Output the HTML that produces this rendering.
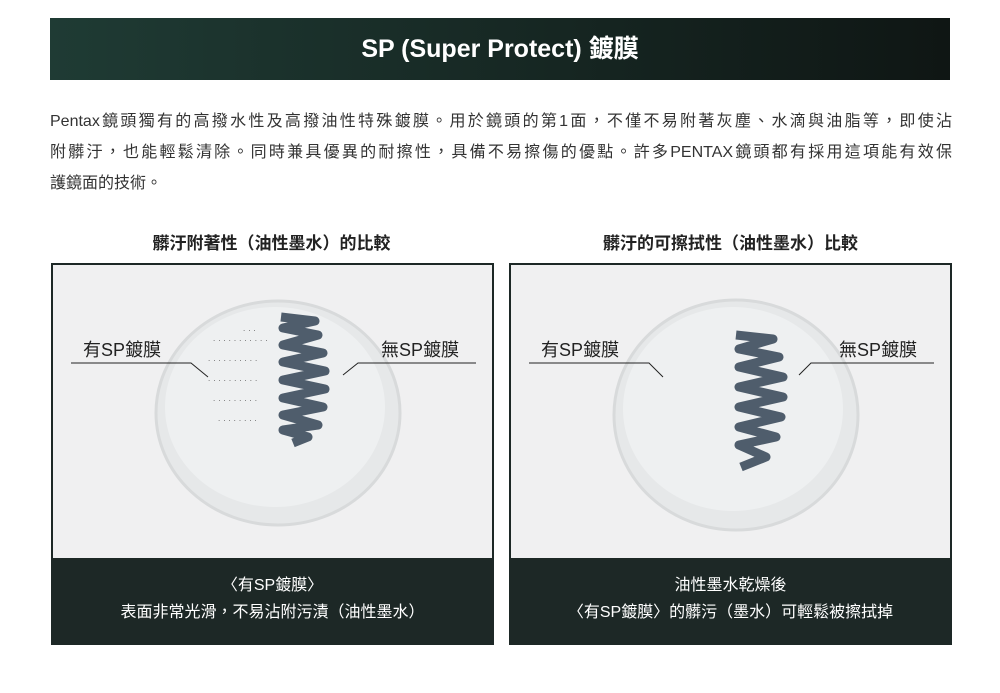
<!DOCTYPE html>
<html><head><meta charset="utf-8"><style>
body{margin:0;background:#fff;width:1000px;height:693px;position:relative;font-family:"Liberation Sans","Noto Sans CJK TC",sans-serif;overflow:hidden}
.hdr{position:absolute;left:50px;top:18px;width:900px;height:62px;background:linear-gradient(90deg,#1f3b34,#0f1614);color:#fff;font-weight:bold;font-size:25px;text-align:center;line-height:62px}
.p{position:absolute;left:50px;top:106px;width:902px;font-size:16px;line-height:31px;color:#333}
.p div{text-align:justify;text-align-last:justify;white-space:nowrap;height:31px}
.h{position:absolute;top:229px;font-weight:bold;font-size:17px;color:#222;text-align:center;width:443px}
.panel{position:absolute;top:263px;width:443px;height:382px;box-sizing:border-box;border:2px solid #1d2826;background:#1d2826;overflow:hidden}
.cap{position:absolute;left:0;top:293px;width:439px;height:85px;color:#fff;font-size:16px;text-align:center;line-height:27px;padding-top:14px;box-sizing:border-box}
</style></head><body>
<div class="hdr">SP (Super Protect) 鍍膜</div>
<div class="p"><div>Pentax鏡頭獨有的高撥水性及高撥油性特殊鍍膜。用於鏡頭的第1面，不僅不易附著灰塵、水滴與油脂等，即使沾</div><div>附髒汙，也能輕鬆清除。同時兼具優異的耐擦性，具備不易擦傷的優點。許多PENTAX鏡頭都有採用這項能有效保</div><div style="text-align-last:left">護鏡面的技術。</div></div>
<div class="h" style="left:50px">髒汙附著性（油性墨水）的比較</div>
<div class="h" style="left:509px">髒汙的可擦拭性（油性墨水）比較</div>

<div class="panel" style="left:51px">
<svg width="439" height="293" style="position:absolute;left:0;top:0">
<rect width="439" height="293" fill="#f0f0f1"/>
<ellipse cx="225" cy="148" rx="122" ry="112" fill="#e6e8e9" stroke="#d8dadb" stroke-width="3"/>
<ellipse cx="222" cy="142" rx="110" ry="100" fill="#eef0f1"/>
<polyline points="228,52 262,56 230,63 265,70 230,80 270,88 230,97 272,106 230,115 272,124 230,133 270,142 230,150 265,160 230,165 255,172 240,178" fill="none" stroke="#4f5d6c" stroke-width="9" stroke-linejoin="round"/>
<g fill="#555">
<text x="160" y="76" font-size="8" letter-spacing="3">...........</text>
<text x="155" y="96" font-size="8" letter-spacing="3">..........</text>
<text x="155" y="116" font-size="8" letter-spacing="3">..........</text>
<text x="160" y="136" font-size="8" letter-spacing="3">.........</text>
<text x="165" y="156" font-size="8" letter-spacing="3">........</text>
<text x="190" y="66" font-size="8" letter-spacing="3">...</text>
</g>
<text x="30" y="91" font-size="18" fill="#222">有SP鍍膜</text>
<text x="328" y="91" font-size="18" fill="#222">無SP鍍膜</text>
<polyline points="18,98 138,98 155,112" fill="none" stroke="#222" stroke-width="1"/>
<polyline points="423,98 305,98 290,110" fill="none" stroke="#222" stroke-width="1"/>
</svg>
<div class="cap">〈有SP鍍膜〉<br>表面非常光滑，不易沾附污漬（油性墨水）</div>
</div>

<div class="panel" style="left:509px">
<svg width="439" height="293" style="position:absolute;left:0;top:0">
<rect width="439" height="293" fill="#f0f0f1"/>
<ellipse cx="225" cy="150" rx="122" ry="115" fill="#e6e8e9" stroke="#d8dadb" stroke-width="3"/>
<ellipse cx="222" cy="144" rx="110" ry="102" fill="#eef0f1"/>
<polyline points="225,70 262,74 228,84 268,92 228,102 272,112 228,122 272,132 228,142 270,152 228,162 265,172 228,180 255,192 230,202" fill="none" stroke="#4f5d6c" stroke-width="9" stroke-linejoin="round"/>
<text x="30" y="91" font-size="18" fill="#222">有SP鍍膜</text>
<text x="328" y="91" font-size="18" fill="#222">無SP鍍膜</text>
<polyline points="18,98 138,98 152,112" fill="none" stroke="#222" stroke-width="1"/>
<polyline points="423,98 300,98 288,110" fill="none" stroke="#222" stroke-width="1"/>
</svg>
<div class="cap">油性墨水乾燥後<br>〈有SP鍍膜〉的髒污（墨水）可輕鬆被擦拭掉</div>
</div>
</body></html>
